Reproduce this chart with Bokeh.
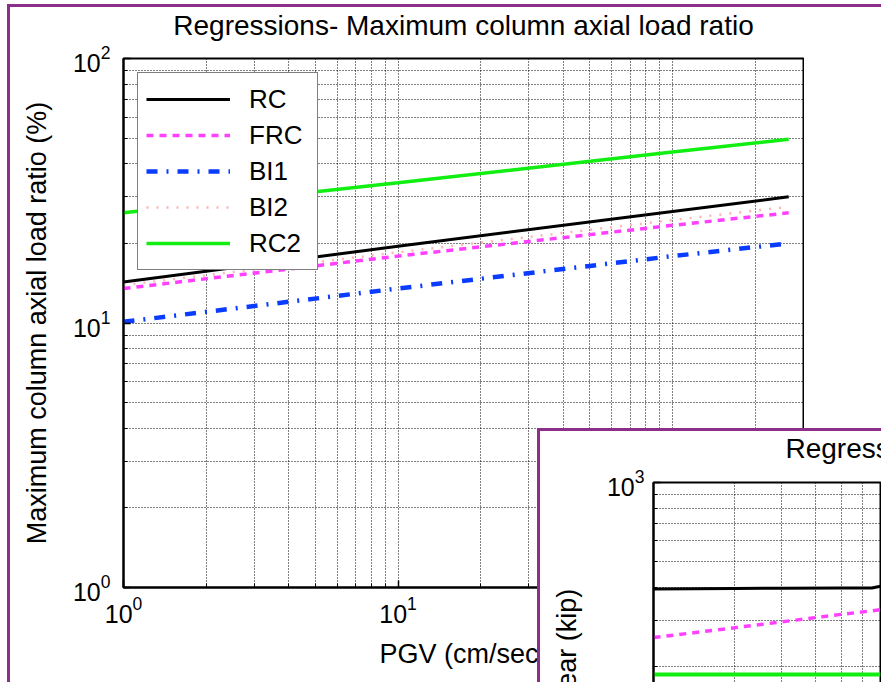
import math
from bokeh.plotting import figure
from bokeh.models import Legend, LegendItem, FixedTicker, Column
from bokeh.embed import file_html
from bokeh.resources import INLINE

# ---------------- data ----------------
# Main chart: Regressions - Maximum column axial load ratio
pgv = [1, 10, 100, 265]
rc = [14.3, 19.5, 26.4, 30.0]
frc = [13.5, 17.9, 23.4, 26.1]
bi1 = [10.1, 13.5, 17.9, 20.0]
bi2 = [13.9, 18.5, 24.5, 27.5]
rc2 = [26.1, 33.9, 44.3, 49.5]

x_major = [1, 10, 100]
x_minor = [2, 3, 4, 5, 6, 7, 8, 9, 20, 30, 40, 50, 60, 70, 80, 90, 200, 300]
y_major = [1, 10, 100]
y_minor = [2, 3, 4, 5, 6, 7, 8, 9, 20, 30, 40, 50, 60, 70, 80, 90]

# Second (overlapping) chart, only partly visible
pgv2 = [1, 2, 3, 5, 6.5, 7]
shear_rc = [394, 396, 397, 398, 398, 404]
shear_frc = [258, 281, 296, 316, 326, 329]
shear_rc2 = [187, 187, 187, 187, 187, 187]
x2_major = [1, 10]
x2_minor = [2, 3, 4, 5, 6, 7, 8, 9]
y2_major = [1000]
y2_minor = [200, 300, 400, 500, 600, 700, 800, 900]

FONT = "Liberation Sans"
PURPLE = "#8B2F8B"
GRID = dict(grid_line_color="black", grid_line_dash="1 2", grid_line_width=1,
            minor_grid_line_color="black", minor_grid_line_dash="1 2", minor_grid_line_width=1)
BORDER = {"border-top": f"3px solid {PURPLE}", "border-left": f"3px solid {PURPLE}",
          "overflow": "hidden", "background-color": "white"}


def style_axis(ax, standoff):
    ax.axis_line_color = "black"
    ax.axis_line_width = 2
    ax.major_tick_in = 7
    ax.major_tick_out = 0
    ax.minor_tick_in = 4
    ax.minor_tick_out = 0
    ax.major_tick_line_width = 1.5
    ax.major_label_text_font = FONT
    ax.major_label_text_font_size = "25px"
    ax.major_label_text_color = "black"
    ax.major_label_standoff = standoff
    ax.axis_label_text_font = FONT
    ax.axis_label_text_font_size = "27px"
    ax.axis_label_text_font_style = "normal"
    ax.axis_label_text_color = "black"


def style_title(t, standoff):
    t.text_font = FONT
    t.text_font_size = "28px"
    t.text_font_style = "normal"
    t.text_color = "black"
    t.standoff = standoff
    t.vertical_align = "bottom"


# ---------------- main figure ----------------
p = figure(width=794, height=699, x_axis_type="log", y_axis_type="log",
           x_range=(1, 300), y_range=(1, 100),
           output_backend="svg", toolbar_location=None,
           min_border_left=113, min_border_right=1, min_border_top=75, min_border_bottom=92,
           title="Regressions- Maximum column axial load ratio",
           margin=(-24, 0, 0, 0))
p.background_fill_color = "white"
p.border_fill_color = "white"
p.outline_line_color = "black"
p.outline_line_width = 2
style_title(p.title, 36)
p.title.align = "center"

xt = FixedTicker(ticks=x_major, minor_ticks=x_minor)
yt = FixedTicker(ticks=y_major, minor_ticks=y_minor)
p.xaxis.ticker = xt
p.yaxis.ticker = yt
p.xgrid.ticker = xt
p.ygrid.ticker = yt
for g in (p.xgrid, p.ygrid):
    for k, v in GRID.items():
        setattr(g, k, v)

style_axis(p.xaxis[0], 8)
style_axis(p.yaxis[0], 13)
p.xaxis.axis_label = "PGV (cm/sec)"
p.yaxis.axis_label = "Maximum column axial load ratio (%)"
p.xaxis.axis_label_standoff = 13
p.yaxis.axis_label_standoff = 18

r_rc = p.line(pgv, rc, line_color="black", line_width=3)
r_bi2 = p.line(pgv, bi2, line_color="#FFB4B4", line_width=2.5, line_dash="2 8")
r_frc = p.line(pgv, frc, line_color="#FF40FF", line_width=3.5, line_dash="7 6")
r_bi1 = p.line(pgv, bi1, line_color="#0A3CFF", line_width=4.5, line_dash="11 9 2 9")
r_rc2 = p.line(pgv, rc2, line_color="#11EE11", line_width=3.5)

legend = Legend(items=[LegendItem(label="RC", renderers=[r_rc]),
                       LegendItem(label="FRC", renderers=[r_frc]),
                       LegendItem(label="BI1", renderers=[r_bi1]),
                       LegendItem(label="BI2", renderers=[r_bi2]),
                       LegendItem(label="RC2", renderers=[r_rc2])],
                location="top_left", margin=14, padding=8, spacing=0,
                glyph_width=84, glyph_height=36, label_height=36, label_width=60,
                label_standoff=19, label_text_font=FONT, label_text_font_size="26px",
                label_text_color="black",
                border_line_color="black", border_line_width=1.5,
                background_fill_color="white", background_fill_alpha=1)
p.add_layout(legend)

# ---------------- overlapping second figure (partly outside the window) ----------------
p2 = figure(width=344, height=638, x_axis_type="log", y_axis_type="log",
            x_range=(1, 7.0), y_range=(7.57, 1000), x_axis_location=None,
            output_backend="svg", toolbar_location=None,
            min_border_left=113, min_border_right=1, min_border_top=76, min_border_bottom=0,
            title="Regressions- Maximum column shear",
            margin=(-25, 0, 0, 0))
p2.background_fill_color = "white"
p2.border_fill_color = "white"
p2.outline_line_color = "black"
p2.outline_line_width = 2
style_title(p2.title, 38)
p2.title.align = "left"
p2.title.offset = 132

xt2 = FixedTicker(ticks=x2_major, minor_ticks=x2_minor)
yt2 = FixedTicker(ticks=y2_major, minor_ticks=y2_minor)
p2.xgrid.ticker = xt2
p2.yaxis.ticker = yt2
p2.ygrid.ticker = yt2
for g in (p2.xgrid, p2.ygrid):
    for k, v in GRID.items():
        setattr(g, k, v)
style_axis(p2.yaxis[0], 9)
p2.yaxis.axis_label = "Maximum column shear (kip)"
p2.yaxis.axis_label_standoff = 22

p2.line(pgv2, shear_rc2, line_color="#11EE11", line_width=4)
p2.line(pgv2, shear_frc, line_color="#FF40FF", line_width=3.5, line_dash="7 6")
p2.line(pgv2, shear_rc, line_color="black", line_width=3)

inset = Column(children=[p2], spacing=0, width=344, height=638,
               margin=(-251, 0, -25, 527), styles=BORDER)

layout = Column(children=[p, inset], spacing=0, width=874, height=699,
                margin=(4, 0, -24, 7), styles=BORDER)
open("out.html", "w").write(file_html(layout, INLINE))
